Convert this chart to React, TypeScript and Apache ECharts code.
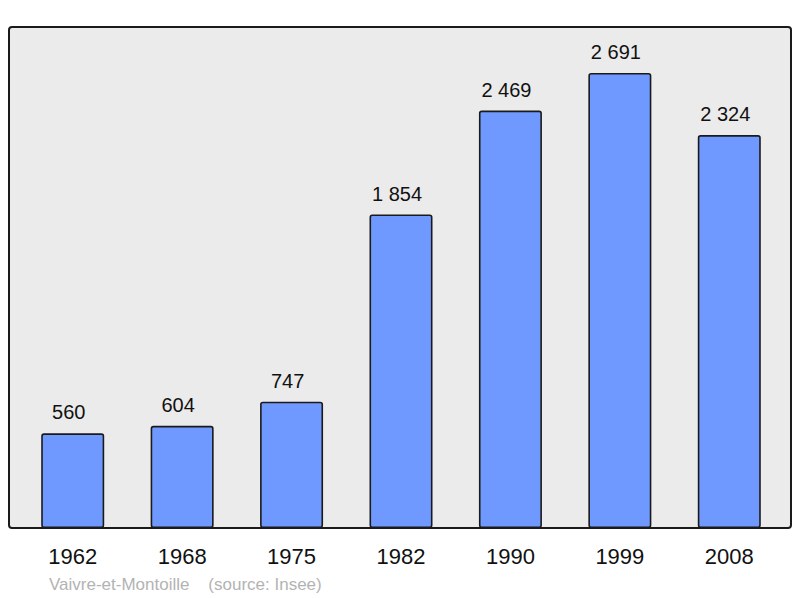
import React, { useEffect, useRef } from "react";
import * as echarts from "echarts";

const categories = ["1962", "1968", "1975", "1982", "1990", "1999", "2008"];
const population = [560, 604, 747, 1854, 2469, 2691, 2324];
const footerText = "Vaivre-et-Montoille    (source: Insee)";

const fmt = (v: number) => {
  const s = String(v);
  return s.length > 3 ? s.slice(0, s.length - 3) + " " + s.slice(-3) : s;
};

export default function App() {
  const ref = useRef<HTMLDivElement>(null);
  useEffect(() => {
    if (!ref.current) return;
    const chart = echarts.init(ref.current, undefined, { renderer: "svg" });
    chart.setOption({
      animation: false,
      backgroundColor: "#ffffff",
      textStyle: { fontFamily: "Liberation Sans, Arial, sans-serif" },
      graphic: [
        {
          type: "rect",
          z: -10,
          shape: { x: 9, y: 27, width: 782, height: 501, r: 3 },
          style: { fill: "#ebebeb", stroke: "#1a1a1a", lineWidth: 2 },
        },
        {
          type: "text",
          left: 49,
          top: 576,
          style: {
            text: footerText,
            fill: "#b3b3b3",
            fontSize: 17,
            fontFamily: "Liberation Sans, Arial, sans-serif",
          },
        },
      ],
      grid: { left: 18, right: 16, top: 27, bottom: 70, containLabel: false },
      xAxis: {
        type: "category",
        data: categories,
        axisLine: { show: false },
        axisTick: { show: false },
        axisLabel: {
          color: "#111",
          fontSize: 22,
          margin: 17,
          fontFamily: "Liberation Sans, Arial, sans-serif",
        },
      },
      yAxis: {
        type: "value",
        min: 0,
        max: 2963,
        show: false,
        splitLine: { show: false },
      },
      series: [
        {
          type: "bar",
          data: population,
          barWidth: 63,
          itemStyle: {
            color: "#7099ff",
            borderColor: "#1a1a1a",
            borderWidth: 1.6,
            borderRadius: 2,
          },
          label: {
            show: true,
            position: "top",
            distance: 11,
            offset: [-4, 0],
            color: "#111",
            fontSize: 20,
            fontFamily: "Liberation Sans, Arial, sans-serif",
            formatter: (p: any) => fmt(p.value),
          },
        },
      ],
    });
    return () => chart.dispose();
  }, []);
  return <div ref={ref} style={{ width: 800, height: 598, position: "absolute", left: 0, top: 0 }} />;
}
